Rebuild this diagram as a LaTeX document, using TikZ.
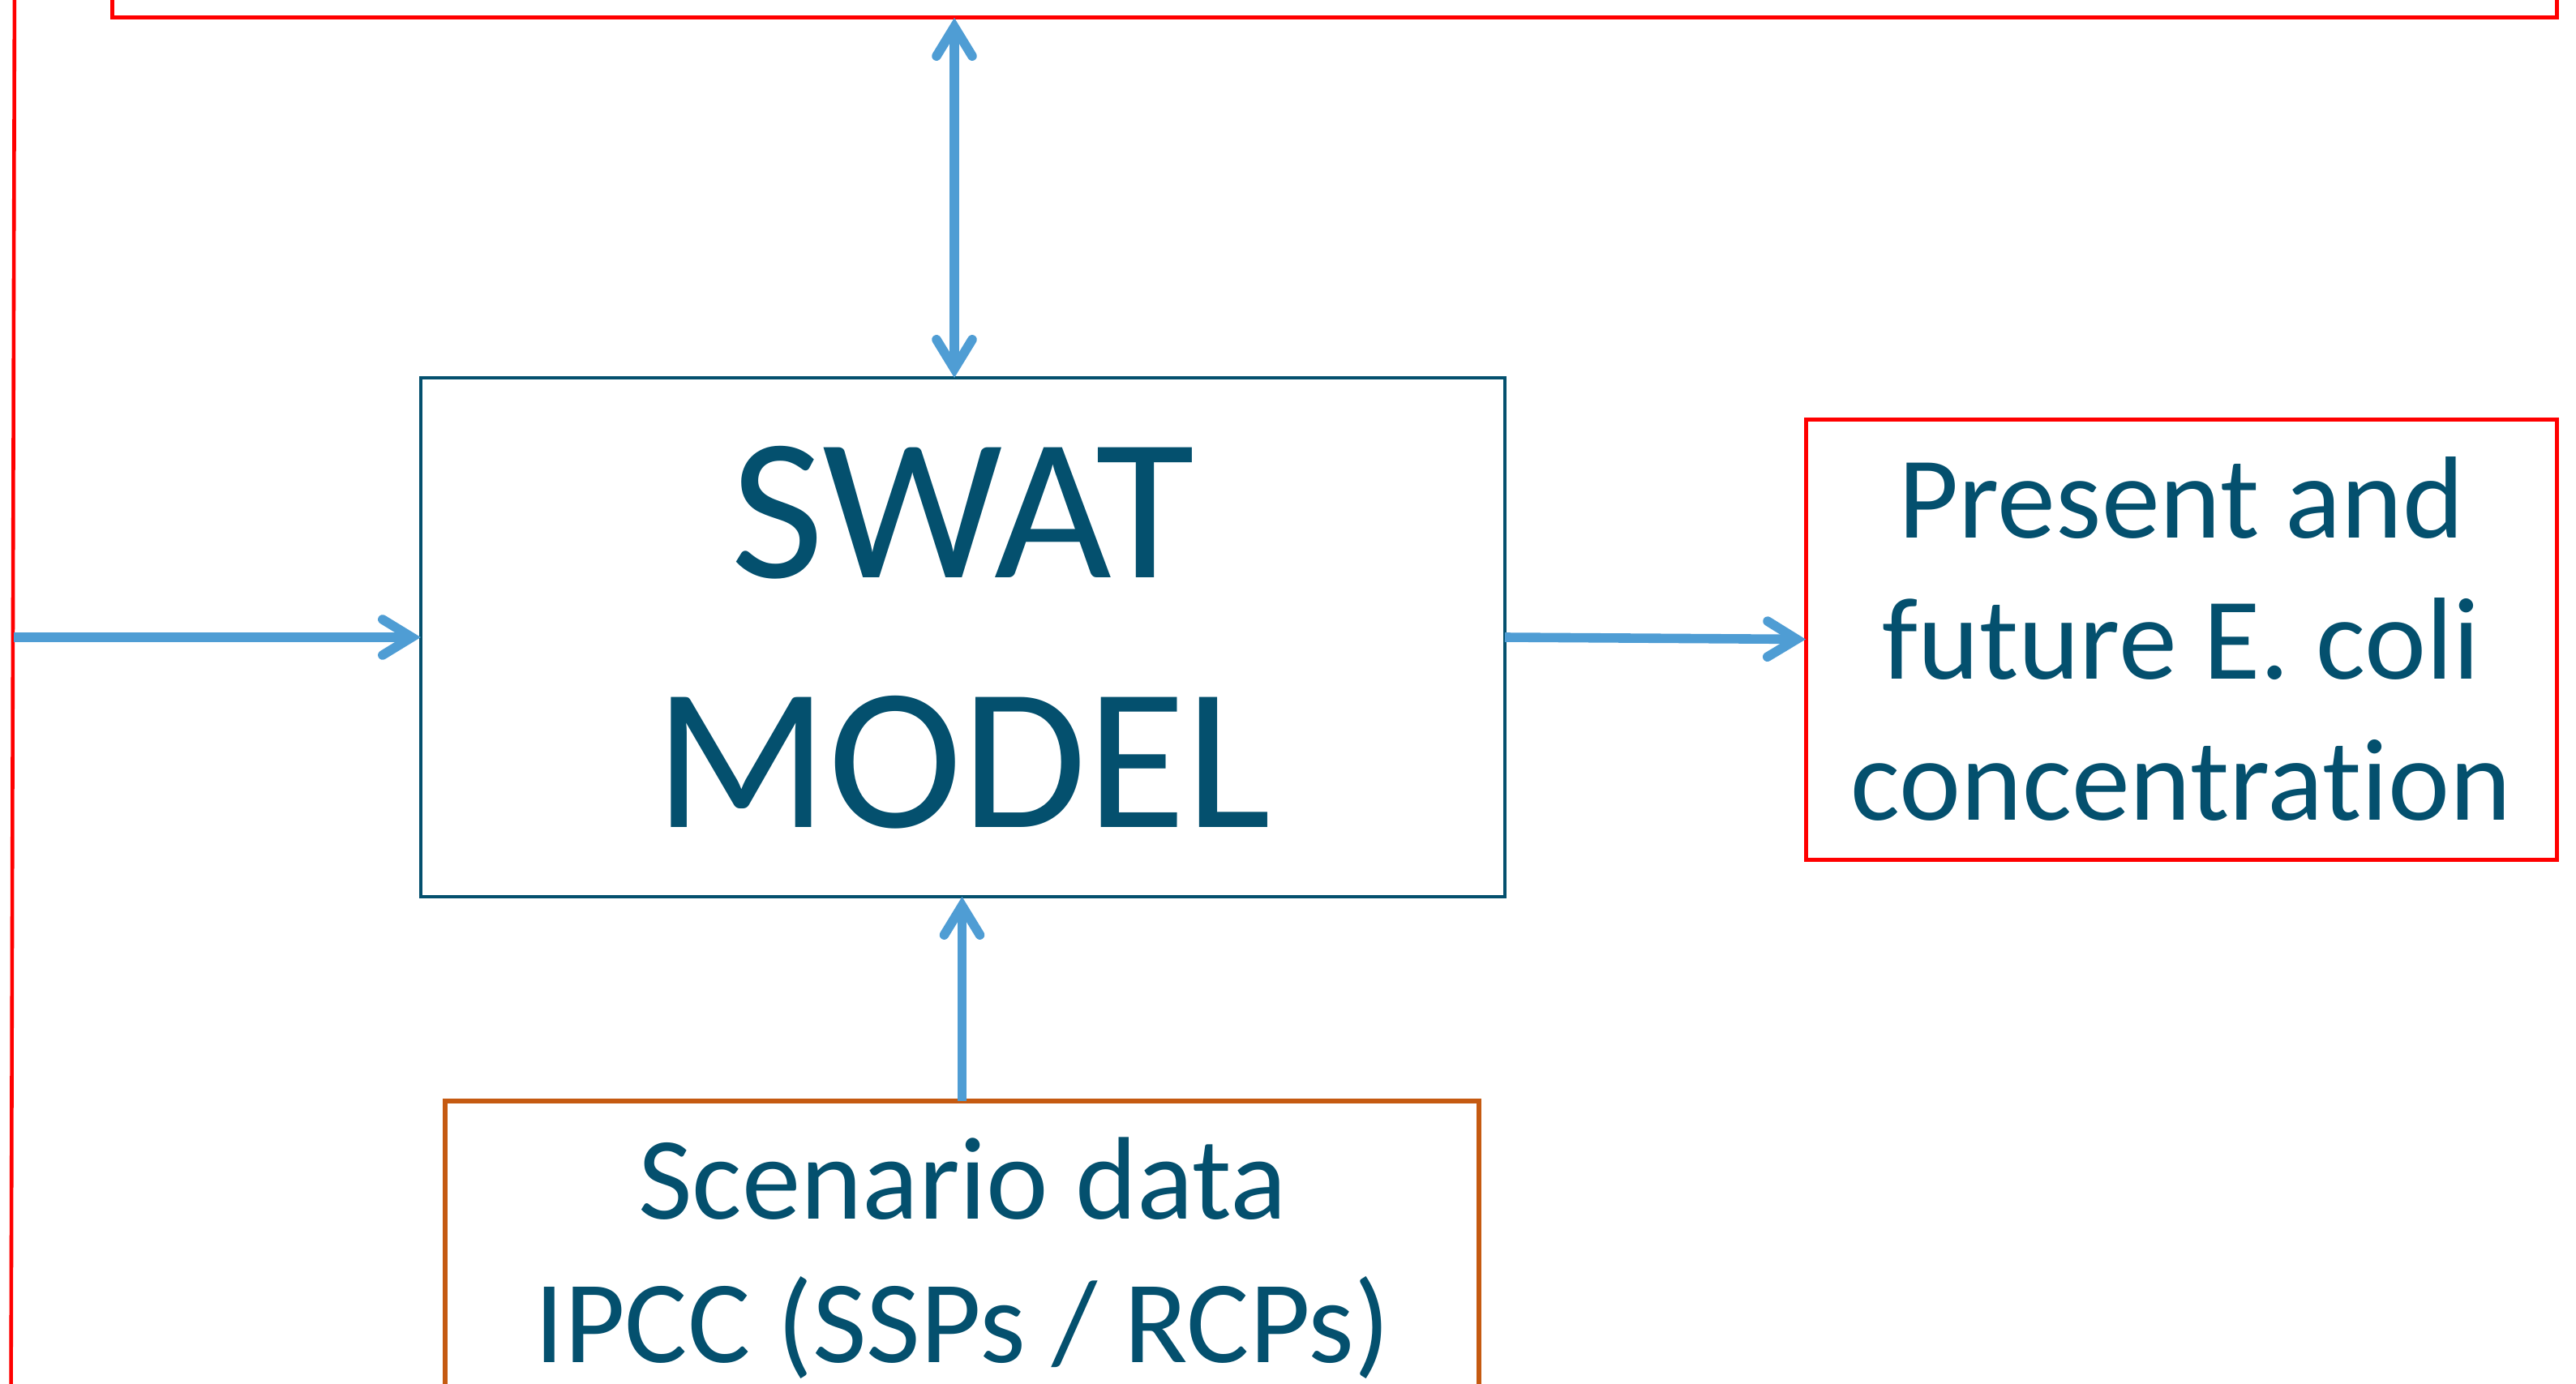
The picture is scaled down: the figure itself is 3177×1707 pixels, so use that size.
\documentclass[tikz,border=0pt]{standalone}
\usepackage{fontspec}
\setmainfont{Carlito}[Ligatures={NoCommon}]
\usetikzlibrary{arrows.meta}
\definecolor{swatblue}{RGB}{4,80,110}
\definecolor{arrowblue}{RGB}{79,157,212}
\definecolor{boxred}{RGB}{255,0,0}
\definecolor{boxorange}{RGB}{197,90,17}
\tikzset{
  bbarb/.tip={Straight Barb[length=18pt,width=22pt,line cap=round,line join=miter]},
  redbox/.style={draw=boxred, line width=2.5pt, inner sep=0pt, outer sep=0pt},
  swatbox/.style={draw=swatblue, line width=2.1pt, inner sep=0pt, outer sep=0pt},
  orangebox/.style={draw=boxorange, line width=2.9pt, inner sep=0pt, outer sep=0pt},
  redline/.style={draw=boxred, line width=2.3pt},
  arr/.style={draw=arrowblue, line width=5.8pt, -{bbarb}},
  arrtwo/.style={draw=arrowblue, line width=5.8pt, {bbarb}-{bbarb}},
  txt/.style={text=swatblue, align=center}
}
\begin{document}
\begin{tikzpicture}[x=0.5pt,y=-0.5pt]
\useasboundingbox (0,0) rectangle (3177,1707);
% boxes
\node[redbox, minimum width=1507.5pt, minimum height=161pt] (top) at (1645.5,-139) {};
\node[swatbox, txt, minimum width=668.5pt, minimum height=320pt,
      font=\fontsize{125}{154}\selectfont] (swat) at (1187.5,786) {SWAT\\MODEL};
\node[redbox, txt, minimum width=463pt, minimum height=271.5pt,
      font=\fontsize{72}{87}\selectfont] (res) at (2690,788.5) {Present and\\future E. coli\\concentration};
\node[orangebox, minimum width=637.5pt, minimum height=300pt, anchor=north] (scen) at (1186.5,1358) {};
\node[txt, font=\fontsize{72.5}{88.5}\selectfont] (scentext) at (1187,1552) {Scenario data\\IPCC (SSPs / RCPs)};
% left red line
\coordinate (ltop) at (18,-30);
\coordinate (lbot) at (13.5,1740);
\draw[redline] (ltop) -- (lbot);
% connectors
\coordinate (lin) at (17,786);
\draw[arr] (lin) -- (swat.west);
\draw[arr] (swat.east) -- (res.west);
\coordinate (dx) at (1177,0);
\draw[arrtwo] (top.south -| dx) -- (swat.north -| dx);
\draw[arr] (scen.north) -- (scen.north |- swat.south);
\end{tikzpicture}
\end{document}
